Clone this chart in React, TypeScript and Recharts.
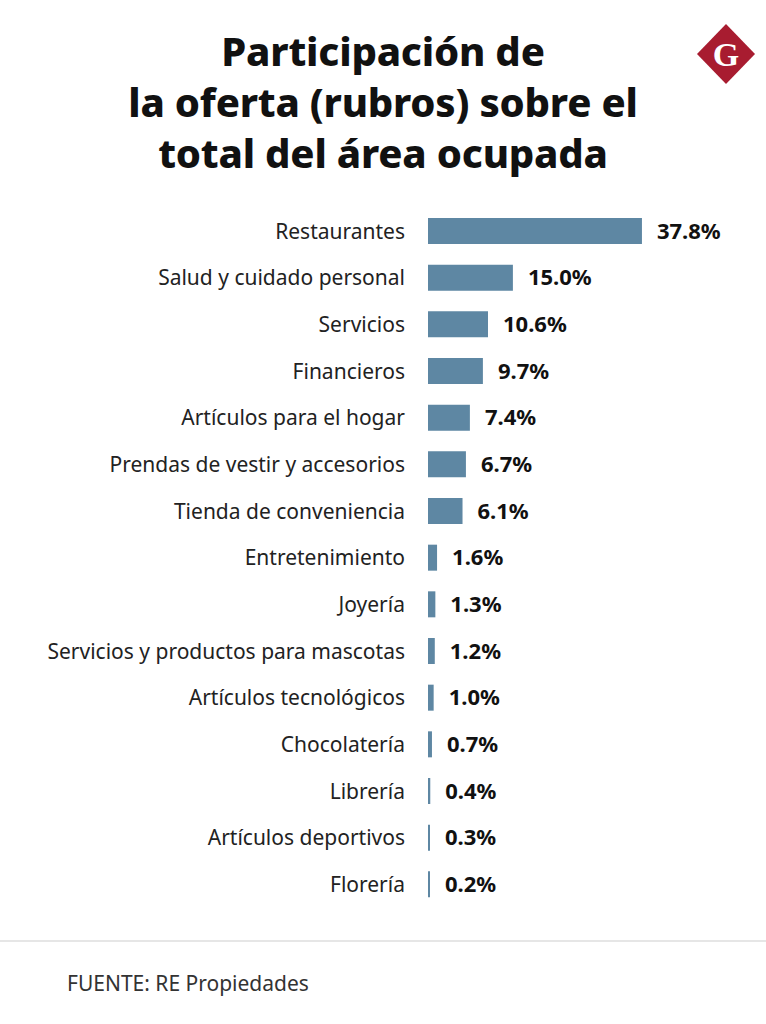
import React from "react";
import { Bar, BarChart, LabelList, XAxis, YAxis } from "recharts";

const categories = [
  "Restaurantes",
  "Salud y cuidado personal",
  "Servicios",
  "Financieros",
  "Artículos para el hogar",
  "Prendas de vestir y accesorios",
  "Tienda de conveniencia",
  "Entretenimiento",
  "Joyería",
  "Servicios y productos para mascotas",
  "Artículos tecnológicos",
  "Chocolatería",
  "Librería",
  "Artículos deportivos",
  "Florería",
];

const shares = [37.8, 15.0, 10.6, 9.7, 7.4, 6.7, 6.1, 1.6, 1.3, 1.2, 1.0, 0.7, 0.4, 0.3, 0.2];

const titleLines = ["Participación de", "la oferta (rubros) sobre el", "total del área ocupada"];
const source = "FUENTE: RE Propiedades";

const rows = categories.map((name, i) => ({ name, value: shares[i] }));

const font = "'Noto Sans', 'Open Sans', sans-serif";

export default function App() {
  return (
    <div
      style={{
        position: "absolute",
        left: 0,
        top: 0,
        width: 766,
        height: 1024,
        background: "#fff",
        fontFamily: font,
        overflow: "hidden",
      }}
    >
      <div
        style={{
          position: "absolute",
          top: 25,
          left: 0,
          width: 766,
          textAlign: "center",
          fontSize: 40,
          fontWeight: 800,
          lineHeight: "51px",
          color: "#111",
          letterSpacing: -0.2,
        }}
      >
        {titleLines.map((l) => (
          <div key={l}>{l}</div>
        ))}
      </div>

      <svg style={{ position: "absolute", left: 697, top: 24 }} width={58} height={60}>
        <polygon points="29,0 58,30 29,60 0,30" fill="#a81c30" />
        <text
          x={29}
          y={42}
          textAnchor="middle"
          fill="#fff"
          fontSize={34}
          fontFamily="'Liberation Serif', 'DejaVu Serif', serif"
          fontWeight={700}
        >
          G
        </text>
      </svg>

      <div style={{ position: "absolute", left: 0, top: 208 }}>
        <BarChart
          width={766}
          height={700}
          data={rows}
          layout="vertical"
          margin={{ top: 0, right: 55, bottom: 0, left: 0 }}
          barCategoryGap={0}
        >
          <XAxis type="number" domain={[0, 50]} hide />
          <YAxis
            type="category"
            dataKey="name"
            width={428}
            axisLine={false}
            tickLine={false}
            tickSize={0}
            tickMargin={23}
            interval={0}
            tick={{ fontSize: 21, fill: "#222", fontFamily: font }}
          />
          <Bar
            dataKey="value"
            fill="#5e87a3"
            barSize={26}
            minPointSize={2}
            isAnimationActive={false}
          >
            <LabelList
              dataKey="value"
              position="right"
              offset={15}
              formatter={(v: number) => `${v.toFixed(1)}%`}
              style={{ fontSize: 22, fontWeight: 700, fill: "#111", fontFamily: font }}
            />
          </Bar>
        </BarChart>
      </div>

      <div
        style={{
          position: "absolute",
          left: 0,
          top: 940,
          width: 766,
          height: 2,
          background: "#e6e6e6",
        }}
      />
      <div
        style={{
          position: "absolute",
          left: 67,
          top: 969,
          fontSize: 21,
          color: "#333",
        }}
      >
        {source}
      </div>
    </div>
  );
}
